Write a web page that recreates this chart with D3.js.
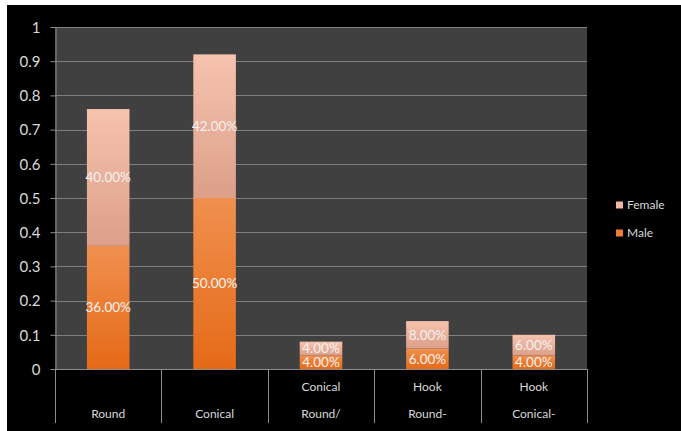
<!DOCTYPE html>
<html><head><meta charset="utf-8">
<script src="https://cdn.jsdelivr.net/npm/d3@7"></script>
<style>
html,body{margin:0;padding:0;background:#fff;}
svg{display:block;}
text{font-family:"Lato","Open Sans",sans-serif;}
</style></head>
<body>
<svg id="c" width="681" height="431"></svg>
<script>
const categories = ["Round", "Conical", "Conical Round/", "Hook Round-", "Hook Conical-"];
const labelLines = [["", "Round"], ["", "Conical"], ["Conical", "Round/"], ["Hook", "Round-"], ["Hook", "Conical-"]];
const male = [0.36, 0.50, 0.04, 0.06, 0.04];
const female = [0.40, 0.42, 0.04, 0.08, 0.06];
const seriesNames = ["Male", "Female"];
const yTicks = [0, 0.1, 0.2, 0.3, 0.4, 0.5, 0.6, 0.7, 0.8, 0.9, 1];

const svg = d3.select("#c");
svg.append("rect").attr("x", 7).attr("y", 5).attr("width", 674).attr("height", 426).attr("fill", "#000");

const defs = svg.append("defs");
const gm = defs.append("linearGradient").attr("id", "gMale").attr("x1", 0).attr("y1", 0).attr("x2", 0).attr("y2", 1);
gm.append("stop").attr("offset", "0%").attr("stop-color", "#f0904f");
gm.append("stop").attr("offset", "100%").attr("stop-color", "#e56a17");
const gf = defs.append("linearGradient").attr("id", "gFemale").attr("x1", 0).attr("y1", 0).attr("x2", 0).attr("y2", 1);
gf.append("stop").attr("offset", "0%").attr("stop-color", "#f6c3ae");
gf.append("stop").attr("offset", "100%").attr("stop-color", "#dc9f89");

const L = 55, R = 587, T = 27, B = 369;
const x = d3.scaleBand().domain(categories).range([L, R]).paddingInner(0.6).paddingOuter(0.3);
const xb = d3.scaleBand().domain(categories).range([L, R]).padding(0);
const y = d3.scaleLinear().domain([0, 1]).range([B, T]);

svg.append("rect").attr("x", L).attr("y", T).attr("width", R - L).attr("height", B - T).attr("fill", "#404040");

// gridlines
svg.append("g").selectAll("line").data(yTicks.slice(1)).join("line")
  .attr("x1", L).attr("x2", R).attr("y1", d => Math.round(y(d)) + 0.5).attr("y2", d => Math.round(y(d)) + 0.5)
  .attr("stroke", "#7f7f7f").attr("stroke-width", 1);

// y axis
const ya = svg.append("g").attr("transform", `translate(${L + 0.5},0)`)
  .call(d3.axisLeft(y).tickValues(yTicks).tickFormat(d => d3.format("")(+d.toFixed(1))).tickSize(5).tickSizeOuter(0));
ya.select(".domain").attr("stroke", "#8c8c8c");
ya.selectAll(".tick line").attr("stroke", "#8c8c8c");
ya.selectAll(".tick text").attr("fill", "#d9d9d9").attr("font-size", 15).attr("x", -15).attr("dy", "0.35em");

// stacked bars
const data = categories.map((c, i) => ({ c, male: male[i], female: female[i] }));
const stack = d3.stack().keys(["male", "female"])(data);
const fills = { male: "url(#gMale)", female: "url(#gFemale)" };

stack.forEach(s => {
  svg.append("g").selectAll("rect").data(s).join("rect")
    .attr("x", d => x(d.data.c)).attr("width", x.bandwidth())
    .attr("y", d => y(d[1])).attr("height", d => y(d[0]) - y(d[1]))
    .attr("fill", fills[s.key]);
});
stack.forEach(s => {
  svg.append("g").selectAll("text").data(s).join("text")
    .attr("x", d => x(d.data.c) + x.bandwidth() / 2)
    .attr("y", d => y((d[0] + d[1]) / 2))
    .attr("dy", "0.36em")
    .attr("text-anchor", "middle").attr("fill", "#f2f2f2").attr("font-size", 13.5)
    .text(d => d3.format(".2%")(d[1] - d[0]));
});

// x axis
svg.append("line").attr("x1", L).attr("x2", R).attr("y1", B + 0.5).attr("y2", B + 0.5).attr("stroke", "#8c8c8c");
const seps = categories.map(c => xb(c)).concat([R]);
svg.append("g").selectAll("line").data(seps).join("line")
  .attr("x1", d => Math.round(d) + 0.5).attr("x2", d => Math.round(d) + 0.5)
  .attr("y1", B).attr("y2", 423).attr("stroke", "#8c8c8c");
const cl = svg.append("g");
categories.forEach((c, i) => {
  labelLines[i].forEach((t, j) => {
    cl.append("text").attr("x", xb(c) + xb.bandwidth() / 2).attr("y", 391 + j * 27)
      .attr("text-anchor", "middle").attr("fill", "#d9d9d9").attr("font-size", 12).text(t);
  });
});

// legend
const legend = [{ n: "Female", f: "#f4b8a0", y: 205 }, { n: "Male", f: "#ee7c33", y: 233 }];
const lg = svg.append("g");
legend.forEach(d => {
  lg.append("rect").attr("x", 616).attr("y", d.y - 3.5).attr("width", 7).attr("height", 7).attr("fill", d.f);
  lg.append("text").attr("x", 627).attr("y", d.y).attr("dy", "0.36em").attr("fill", "#d9d9d9").attr("font-size", 12).text(d.n);
});
</script>
</body></html>
